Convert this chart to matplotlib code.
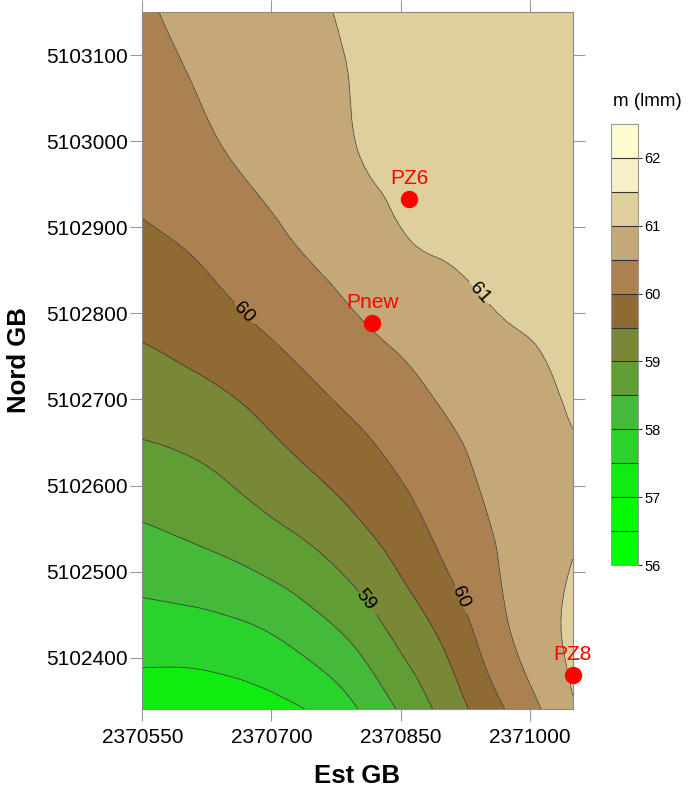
import numpy as np
import matplotlib
matplotlib.use('Agg')
import matplotlib.pyplot as plt
import matplotlib.tri as mtri

plt.rcParams['font.family'] = ['Liberation Sans', 'DejaVu Sans']

# grid nodes (Gauss-Boaga)
est = [2370550, 2370600, 2370650, 2370700, 2370750, 2370800,
       2370850, 2370900, 2370950, 2371000, 2371050]
nord = [5103150, 5103060, 5102970, 5102880, 5102790,
        5102700, 5102610, 5102520, 5102430, 5102340]

# m (lmm), one row per nord value (north -> south)
quota = [
    [60.46, 60.57, 60.69, 60.81, 60.95, 61.05, 61.11, 61.15, 61.19, 61.22, 61.24],
    [60.36, 60.47, 60.61, 60.74, 60.89, 61.02, 61.09, 61.14, 61.18, 61.21, 61.24],
    [60.18, 60.30, 60.47, 60.62, 60.79, 60.98, 61.06, 61.12, 61.15, 61.18, 61.20],
    [59.90, 60.02, 60.19, 60.39, 60.58, 60.77, 60.96, 61.04, 61.08, 61.12, 61.15],
    [59.59, 59.71, 59.89, 60.08, 60.27, 60.47, 60.65, 60.80, 60.95, 61.03, 61.08],
    [59.22, 59.32, 59.46, 59.68, 59.91, 60.12, 60.33, 60.54, 60.71, 60.87, 61.05],
    [58.78, 58.87, 59.03, 59.25, 59.48, 59.73, 60.01, 60.30, 60.56, 60.74, 60.92],
    [58.29, 58.40, 58.53, 58.72, 58.95, 59.26, 59.62, 60.04, 60.42, 60.72, 60.99],
    [57.76, 57.78, 57.86, 58.02, 58.30, 58.66, 59.14, 59.60, 60.19, 60.71, 61.10],
    [57.20, 57.20, 57.25, 57.36, 57.56, 57.99, 58.56, 59.15, 59.75, 60.34, 60.96],
]

livelli = [56.0, 56.5, 57.0, 57.5, 58.0, 58.5, 59.0, 59.5,
           60.0, 60.5, 61.0, 61.5, 62.0, 62.5]
colori = ['#00ff00', '#05fa05', '#10eb10', '#29d32b', '#45b93a', '#5e9e35',
          '#798837', '#8f6b33', '#ab8152', '#c5a877', '#dfcf9d', '#f7f0c8',
          '#fffdd0']
livelli_etichetta = [59.0, 60.0, 61.0]

pozzi = ['PZ6', 'Pnew', 'PZ8']
pozzi_est = [2370860, 2370817, 2371050]
pozzi_nord = [5102933, 5102789, 5102380]

xticks = [2370550, 2370700, 2370850, 2371000]
yticks = [5102400, 5102500, 5102600, 5102700, 5102800, 5102900, 5103000, 5103100]
cbar_ticks = [56, 57, 58, 59, 60, 61, 62]

# label spots for the contour values
etichette = [(2370667, 5102800), (2370936, 5102819),
             (2370806, 5102465), (2370917, 5102469)]

X, Y = np.meshgrid(est, nord)
Z = np.array(quota)

# smooth the grid for drawing (min energy cubic, like the Surfer map)
tri = mtri.Triangulation(X.ravel(), Y.ravel())
interp = mtri.CubicTriInterpolator(tri, Z.ravel(), kind='min_E')
refiner = mtri.UniformTriRefiner(tri)
tri_f, z_f = refiner.refine_field(Z.ravel(), triinterpolator=interp, subdiv=3)

fig = plt.figure(figsize=(6.93, 7.91), dpi=100)
ax = fig.add_axes([0.2053, 0.1033, 0.6211, 0.8812])

cf = ax.tricontourf(tri_f, z_f, levels=livelli, colors=colori)
altri = [v for v in livelli if v not in livelli_etichetta]
ax.tricontour(tri_f, z_f, levels=altri, colors='#333333', linewidths=0.5)
cl = ax.tricontour(tri_f, z_f, levels=livelli_etichetta, colors='#333333', linewidths=0.5)
ax.clabel(cl, fmt='%g', fontsize=14, colors='black', manual=etichette,
          inline=True, inline_spacing=4)

ax.plot(pozzi_est, pozzi_nord, 'o', color='red', markersize=11.5, clip_on=False, zorder=5)
for nome, xe, yn in zip(pozzi, pozzi_est, pozzi_nord):
    ax.annotate(nome, (xe, yn), xytext=(0, 14.5), textcoords='offset points',
                ha='center', va='center', color='red', fontsize=15,
                annotation_clip=False, zorder=6)

ax.set_xlim(2370550, 2371050)
ax.set_ylim(5102340, 5103150)
ax.set_xticks(xticks)
ax.set_xticklabels([str(v) for v in xticks])
ax.set_yticks(yticks)
ax.set_yticklabels([str(v) for v in yticks])
ax.tick_params(direction='out', length=8.6, width=0.8, color='#999999',
               top=True, right=True, labelsize=15)
ax.tick_params(axis='x', pad=5)
ax.tick_params(axis='y', pad=1.5)
for s in ax.spines.values():
    s.set_edgecolor('#888888')
    s.set_linewidth(0.8)

fig.text(357 / 693, 1 - 776 / 791, 'Est GB', ha='center', va='center',
         fontsize=18.5, fontweight='bold')
fig.text(19 / 693, 1 - 360 / 791, 'Nord GB', ha='center', va='center',
         rotation=90, fontsize=18.5, fontweight='bold')

cax = fig.add_axes([0.8812, 0.2857, 0.039, 0.5575])
cb = fig.colorbar(cf, cax=cax, ticks=cbar_ticks, drawedges=True)
cb.dividers.set_color('#333333')
cb.dividers.set_linewidth(0.8)
cb.outline.set_edgecolor('#999999')
cb.outline.set_linewidth(0.8)
cax.set_yticklabels([str(v) for v in cbar_ticks])
cax.tick_params(labelsize=10.5, length=3, width=0.8, pad=2, color='#333333')
fig.text(647 / 693, 1 - 101 / 791, 'm (lmm)', ha='center', va='center', fontsize=13.5)

fig.savefig('out.png', dpi=100)
